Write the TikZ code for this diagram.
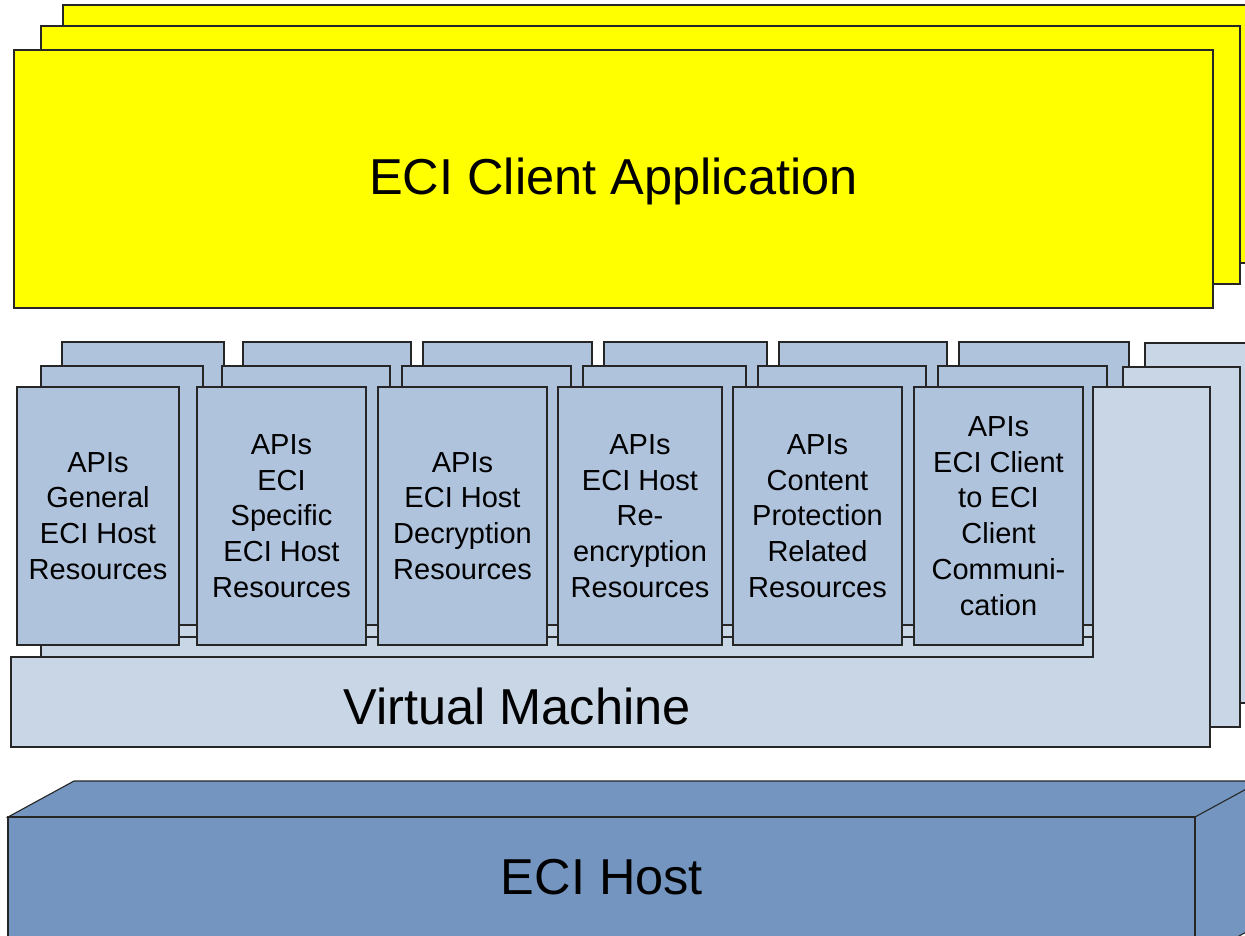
\documentclass[tikz,border=0pt]{standalone}
\usepackage{fontspec}
\setmainfont{Liberation Sans}
\definecolor{clientyellow}{HTML}{FFFF00}
\definecolor{apiblue}{HTML}{B0C3DD}
\definecolor{vmblue}{HTML}{C9D6E6}
\definecolor{hostblue}{HTML}{7395C0}
\begin{document}
\begin{tikzpicture}[x=1pt,y=-1pt,
  outline/.style={draw=black!85, line width=1.1pt, line join=miter},
  yellowbox/.style={outline, fill=clientyellow},
  apifill/.style={outline, fill=apiblue},
  apibox/.style={outline, fill=apiblue, inner sep=0pt, outer sep=0pt,
    minimum height=258pt, align=center,
    font=\fontsize{29}{35.7}\selectfont},
  vmshape/.style={outline, fill=vmblue},
  hostface/.style={outline, fill=hostblue},
  bigtext/.style={font=\fontsize{50.5}{60}\selectfont}]

\useasboundingbox (0,0) rectangle (1245,935);

% client application stack; the rearmost sheet runs past the right margin,
% so only its visible edges are stroked
\fill[clientyellow] (63,5) rectangle (1260,263);
\draw[outline] (1260,5) -- (63,5) -- (63,263) -- (1260,263);
\draw[yellowbox] (41,26) rectangle (1240,284);
\draw[yellowbox] (14,50) rectangle (1213,308);
\node[bigtext] (app) at (613.5,181) {ECI Client Application};

% back virtual machine layer (open on the right)
\fill[vmblue] (62,613) -- (1145,613) -- (1145,343) -- (1260,343)
  -- (1260,703) -- (62,703) -- cycle;
\draw[outline] (1260,343) -- (1145,343) -- (1145,613) -- (62,613)
  -- (62,703) -- (1260,703);
\foreach \l/\r in {62/224,243/411,423/592,604/767,779/947,959/1129}
  \draw[apifill] (\l,342) rectangle (\r,601);

% middle virtual machine layer
\draw[vmshape] (41,637) -- (1123,637) -- (1123,367) -- (1240,367)
  -- (1240,727) -- (41,727) -- cycle;
\foreach \l/\r in {41/203,222/390,402/571,583/746,758/926,938/1107}
  \draw[apifill] (\l,366) rectangle (\r,625);

% front virtual machine layer
\draw[vmshape] (11,657) -- (1093,657) -- (1093,387) -- (1210,387)
  -- (1210,747) -- (11,747) -- cycle;
\node (vm) at (517,706.5) [bigtext] {Virtual Machine};

\node[apibox, minimum width=162pt] (api1) at (98,516)
  {APIs\\General\\ECI Host\\Resources};
\node[apibox, minimum width=169pt] (api2) at (281.5,516)
  {APIs\\ECI\\Specific\\ECI Host\\Resources};
\node[apibox, minimum width=169pt] (api3) at (462.5,516)
  {APIs\\ECI Host\\Decryption\\Resources};
\node[apibox, minimum width=164pt] (api4) at (640,516)
  {APIs\\ECI Host\\Re-\\encryption\\Resources};
\node[apibox, minimum width=169pt] (api5) at (817.5,516)
  {APIs\\Content\\Protection\\Related\\Resources};
\node[apibox, minimum width=169pt] (api6) at (998.5,516)
  {APIs\\ECI Client\\to ECI\\Client\\Communi-\\cation};

% host block: top, side and front faces
\fill[hostblue] (8,817) -- (74,781) -- (1260,781) -- (1260,790)
  -- (1195,817) -- cycle;
\draw[outline] (1195,817) -- (8,817) -- (74,781) -- (1260,781);
\fill[hostblue] (1195,817) -- (1261,781) -- (1261,924) -- (1195,960) -- cycle;
\draw[outline] (1195,817) -- (1261,781);
\draw[outline] (1195,960) -- (1261,924);
\draw[hostface] (8,817) rectangle (1195,960);
\node[bigtext] (host) at (602,877) {ECI Host};
\end{tikzpicture}
\end{document}
